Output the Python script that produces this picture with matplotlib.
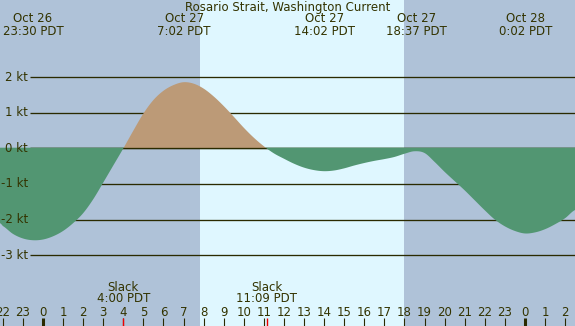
import matplotlib
matplotlib.use("Agg")
import matplotlib.pyplot as plt
import numpy as np

# ---- data (hours relative to Oct 27 00:00 PDT, current in knots) ----
hours = [-2.2, -2.0, -1.5, -1.0, -0.5, 0.0, 0.5, 1.0, 1.5, 2.0, 2.5, 3.0, 3.5, 4.0,
         4.5, 5.0, 5.5, 6.0, 6.5, 7.0, 7.5, 8.0, 8.5, 9.0, 9.5, 10.0, 10.5, 11.0,
         11.5, 12.0, 12.5, 13.0, 13.5, 14.0, 14.5, 15.0, 15.5, 16.0, 16.5, 17.0, 17.5,
         18.0, 18.5, 19.0, 19.5, 20.0, 20.5, 21.0, 21.5, 22.0, 22.5, 23.0, 23.5, 24.0,
         24.5, 25.0, 25.5, 26.0, 26.5]
speed = [-2.08, -2.18, -2.40, -2.53, -2.58, -2.56, -2.47, -2.32, -2.10, -1.82, -1.43, -0.96, -0.48, 0.0,
         0.50, 0.98, 1.36, 1.62, 1.78, 1.86, 1.82, 1.68, 1.46, 1.19, 0.89, 0.58, 0.30, 0.06,
         -0.14, -0.29, -0.43, -0.54, -0.61, -0.64, -0.62, -0.56, -0.48, -0.41, -0.35, -0.30, -0.24,
         -0.15, -0.08, -0.13, -0.38, -0.66, -0.92, -1.18, -1.46, -1.74, -2.00, -2.19, -2.32, -2.39,
         -2.36, -2.27, -2.13, -1.96, -1.73]

kt_levels = [2, 1, 0, -1, -2, -3]
kt_labels = ["2 kt", "1 kt", "0 kt", "-1 kt", "-2 kt", "-3 kt"]

event_hours = [-0.5, 7.033, 14.033, 18.617, 24.033]
event_dates = ["Oct 26", "Oct 27", "Oct 27", "Oct 27", "Oct 28"]
event_times = ["23:30 PDT", "7:02 PDT", "14:02 PDT", "18:37 PDT", "0:02 PDT"]

slack_hours = [4.0, 11.15]
slack_times = ["4:00 PDT", "11:09 PDT"]

tick_hours = list(range(-2, 27))
tick_labels = [str(h % 24) for h in tick_hours]

sunrise, sunset = 7.82, 17.98
title = "Rosario Strait, Washington Current"

# ---- style ----
night = "#afc2d8"
day = "#dff7ff"
green = "#529672"
brown = "#bc9a77"
ink = "#333300"
line_c = "#2a2a00"

W, H = 575, 326
x0, x1 = -2.14, 26.49
y0, y1 = -4.99, 4.17
fig = plt.figure(figsize=(W / 100, H / 100), dpi=100)

# background axes: day/night bands and knot lines
axb = fig.add_axes([0, 0, 1, 1], zorder=0)
# foreground axes: current fill, labels, ticks
ax = fig.add_axes([0, 0, 1, 1], zorder=1)
for a in (axb, ax):
    a.set_xlim(x0, x1)
    a.set_ylim(y0, y1)
    a.axis("off")
ax.patch.set_visible(False)

axb.axvspan(x0, sunrise, color=night, lw=0)
axb.axvspan(sunrise, sunset, color=day, lw=0)
axb.axvspan(sunset, x1, color=night, lw=0)
xl = x0 + 30 / W * (x1 - x0)
axb.hlines(kt_levels, xl, x1, colors=line_c, lw=0.95)

# smooth rendering of the read samples (Catmull-Rom drawing style)
h = np.array(hours, dtype=float)
v = np.array(speed, dtype=float)
P = np.concatenate([[v[0]], v, [v[-1]]])
T = np.concatenate([[h[0] - (h[1] - h[0])], h, [h[-1] + (h[-1] - h[-2])]])
xs, ys = [], []
for i in range(1, len(P) - 2):
    t = np.linspace(0, 1, 20, endpoint=False)
    p0, p1, p2, p3 = P[i - 1], P[i], P[i + 1], P[i + 2]
    q1, q2 = T[i], T[i + 1]
    ys.append(0.5 * (2 * p1 + (-p0 + p2) * t + (2 * p0 - 5 * p1 + 4 * p2 - p3) * t ** 2
                     + (-p0 + 3 * p1 - 3 * p2 + p3) * t ** 3))
    xs.append(q1 + (q2 - q1) * t)
xs.append([h[-1]]); ys.append([v[-1]])
hs = np.concatenate(xs)
vs = np.concatenate(ys)

ax.fill_between(hs, vs, 0, where=vs >= 0, interpolate=True, facecolor=brown,
                edgecolor="none", lw=0, zorder=2)
ax.hlines([0], xl, x1, colors=line_c, lw=0.95, zorder=3)
ax.fill_between(hs, vs, 0.02, where=vs <= 0.02, interpolate=True, facecolor=green,
                edgecolor="none", lw=0, zorder=4)

for lv, lab in zip(kt_levels, kt_labels):
    ax.text(x0 + 28 / W * (x1 - x0), lv, lab, ha="right", va="center",
            fontsize=8.5, color=ink, zorder=10)

def ypix(p):
    return y1 - p / H * (y1 - y0)

ax.text((x0 + x1) / 2, ypix(7), title, ha="center", va="center", fontsize=8.5, color=ink, zorder=10)
for eh, d, t in zip(event_hours, event_dates, event_times):
    ax.text(eh, ypix(19), d, ha="center", va="center", fontsize=8.5, color=ink, zorder=10)
    ax.text(eh, ypix(31.5), t, ha="center", va="center", fontsize=8.5, color=ink, zorder=10)

for th, tl in zip(tick_hours, tick_labels):
    lw = 2.2 if th % 24 == 0 else 0.8
    ax.plot([th, th], [ypix(318), ypix(326)], color=line_c, lw=lw, zorder=8, solid_capstyle="butt")
    ax.text(th, ypix(312), tl, ha="center", va="center", fontsize=8.5, color=ink, zorder=10)

for sh, st in zip(slack_hours, slack_times):
    ax.text(sh, ypix(287.5), "Slack", ha="center", va="center", fontsize=8.5, color=ink, zorder=10)
    ax.text(sh, ypix(299), st, ha="center", va="center", fontsize=8.5, color=ink, zorder=10)
    ax.plot([sh, sh], [ypix(318), ypix(326)], color="#ee0000", lw=1.0, zorder=9, solid_capstyle="butt")

fig.savefig("out.png", dpi=100)
